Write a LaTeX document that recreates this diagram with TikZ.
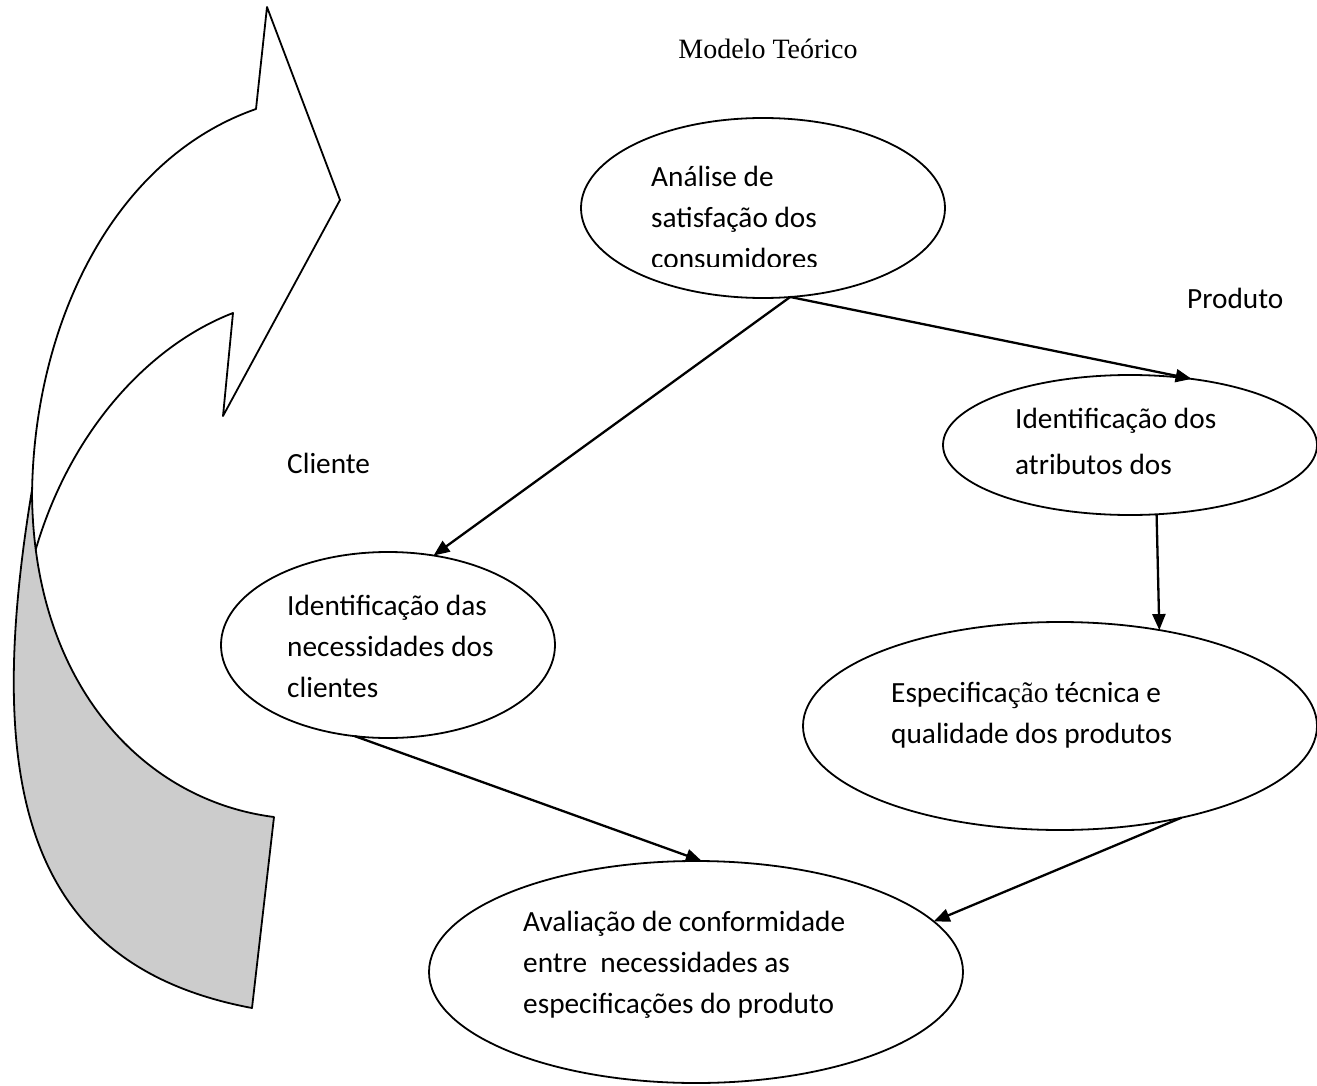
\documentclass[tikz,border=0pt]{standalone}
\usepackage{fontspec}
\setmainfont{Carlito}
\newfontfamily\timesf{Liberation Serif}
\usetikzlibrary{arrows.meta,shapes.geometric}
\begin{document}
\begin{tikzpicture}[x=1pt,y=-1pt,
  ell/.style={draw, ellipse, line width=1.8pt, inner sep=0pt, outer sep=0pt},
  arr/.style={line width=2.3pt, -{Triangle[length=16pt,width=13pt]}},
  txt/.style={inner sep=0pt, anchor=base west, font=\fontsize{29.3}{41}\selectfont},
  shapeline/.style={line width=1.8pt, line join=round}]
\useasboundingbox (0,0) rectangle (1317,1086);
% curved arrow
\draw[shapeline, fill=white] (267,7) -- (340,200) -- (223,416) -- (233,313)
  .. controls (150,345) and (70,430) .. (35,552)
  .. controls (32,535) and (32,517) .. (32,500)
  .. controls (32,330) and (110,160) .. (256,109) -- cycle;
\draw[shapeline, fill=black!20] (32,490) .. controls (-16,780) and (22,965) .. (252,1008)
  -- (274,817) .. controls (140,800) and (32,680) .. (32,490) -- cycle;
% title and labels
\node[inner sep=0pt, anchor=base, font=\timesf\fontsize{28}{34}\selectfont] (title) at (768,59) {Modelo Teórico};
\node[txt] (produto) at (1187,308) {Produto};
\node[txt] (cliente) at (287,473) {Cliente};
% ellipses
\node[ell, minimum width=364pt, minimum height=180pt] (e1) at (763,208) {};
\node[ell, minimum width=374pt, minimum height=140pt] (e2) at (1130,445) {};
\node[ell, minimum width=334pt, minimum height=186pt] (e3) at (388,645) {};
\node[ell, minimum width=514pt, minimum height=208pt] (e4) at (1060,726) {};
\node[ell, minimum width=534pt, minimum height=222pt] (e5) at (696,972) {};
% texts
\begin{scope}
\clip (600,100) rectangle (940,266);
\node[txt] (t1) at (651,187) {\parbox[t]{300pt}{\raggedright Análise de\\satisfação dos\\consumidores}};
\end{scope}
\node[txt, font=\fontsize{29.3}{46}\selectfont] (t2) at (1015,428) {\parbox[t]{300pt}{\raggedright Identificação dos\\atributos dos}};
\node[txt] (t3) at (287,615) {\parbox[t]{300pt}{\raggedright Identificação das\\necessidades dos\\clientes}};
\node[txt] (t4) at (891,702) {\parbox[t]{400pt}{\raggedright Especifica{\timesf ção} técnica e\\qualidade dos produtos}};
\node[txt] (t5) at (523,931) {\parbox[t]{400pt}{\raggedright Avaliação de conformidade\\entre\ \ necessidades as\\especificações do produto}};
% connectors
\draw[arr] (e1.-73) -- (e3.63);
\draw[arr] (e1.-73) -- (e2.47);
\draw[arr] (e2.-69) -- (e4.44.8);
\draw[arr] (e3.-110.6) -- (e5.87.9);
\draw[arr] (e4.-37.5) -- (e5.12.4);
\end{tikzpicture}
\end{document}
